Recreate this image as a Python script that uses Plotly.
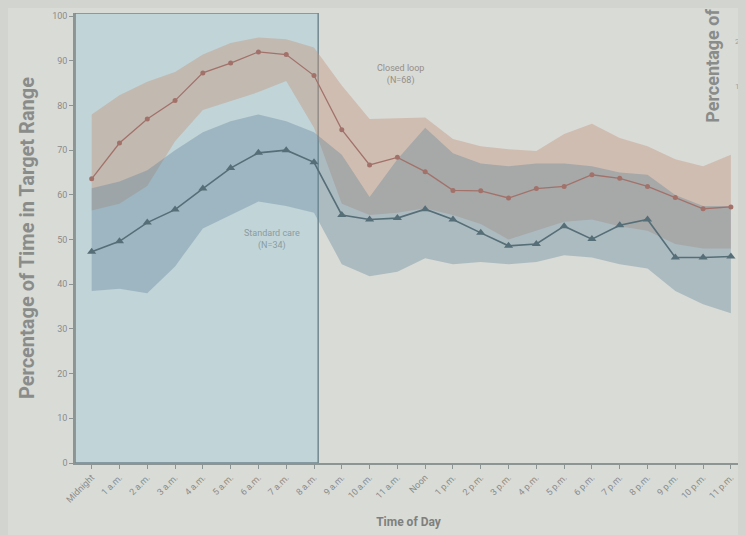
import plotly.graph_objects as go

hours = list(range(24))
tick_labels = ["Midnight", "1 a.m.", "2 a.m.", "3 a.m.", "4 a.m.", "5 a.m.", "6 a.m.", "7 a.m.",
               "8 a.m.", "9 a.m.", "10 a.m.", "11 a.m.", "Noon", "1 p.m.", "2 p.m.", "3 p.m.",
               "4 p.m.", "5 p.m.", "6 p.m.", "7 p.m.", "8 p.m.", "9 p.m.", "10 p.m.", "11 p.m."]

closed_median = [63.6, 71.6, 77.0, 81.1, 87.3, 89.5, 92.0, 91.4, 86.7, 74.6, 66.7, 68.4,
                 65.2, 61.0, 60.9, 59.3, 61.4, 61.9, 64.5, 63.7, 61.9, 59.4, 56.9, 57.3]
closed_q75 = [78.0, 82.3, 85.3, 87.5, 91.4, 94.0, 95.2, 94.8, 93.0, 84.5, 77.0, 77.2,
              77.3, 72.5, 70.9, 70.2, 69.8, 73.6, 75.9, 72.7, 70.9, 68.0, 66.4, 69.0]
closed_q25 = [56.5, 58.0, 62.0, 72.0, 79.0, 81.0, 83.0, 85.5, 75.0, 58.0, 55.5, 56.0,
              57.0, 55.5, 53.5, 50.0, 52.0, 54.0, 54.5, 53.0, 52.0, 49.0, 48.0, 48.0]

standard_median = [47.3, 49.6, 53.8, 56.7, 61.4, 66.0, 69.4, 70.0, 67.3, 55.5, 54.5, 54.8,
                   56.8, 54.5, 51.5, 48.6, 49.0, 53.0, 50.1, 53.2, 54.5, 46.0, 46.0, 46.2]
standard_q75 = [61.5, 63.0, 65.5, 70.0, 74.0, 76.5, 78.0, 76.5, 74.0, 69.0, 59.5, 68.0,
                75.0, 69.3, 67.0, 66.4, 67.0, 67.0, 66.4, 65.0, 64.5, 60.0, 57.5, 57.5]
standard_q25 = [38.5, 39.0, 38.0, 44.0, 52.5, 55.5, 58.5, 57.5, 56.0, 44.5, 41.8, 42.8,
                45.8, 44.5, 45.0, 44.5, 45.0, 46.5, 46.0, 44.5, 43.5, 38.5, 35.5, 33.5]

y_ticks = [0, 10, 20, 30, 40, 50, 60, 70, 80, 90, 100]

BG = "#d9dbd7"
GRAY_TXT = "#8a8c8a"
NARROW = "Liberation Sans Narrow, Arial Narrow, Roboto, sans-serif"

# page is offset by the 8px body margin: figure is sized to fill the window exactly
W, H = 738, 527
L, R, T, B = 67, 4, 3, 72
PW, PH = W - L - R, H - T - B
Y_MAX = 100.7


def px_x(page_x):
    return (page_x - 8 - L) / PW


def px_y(page_y):
    return (H - B - (page_y - 8)) / PH


fig = go.Figure()

# closed loop band (drawn first)
fig.add_trace(go.Scatter(x=hours, y=closed_q25, mode="lines", line=dict(width=0),
                         showlegend=False, hoverinfo="skip"))
fig.add_trace(go.Scatter(x=hours, y=closed_q75, mode="lines", line=dict(width=0),
                         fill="tonexty", fillcolor="rgba(195,148,125,0.42)",
                         showlegend=False, hoverinfo="skip"))
# standard care band
fig.add_trace(go.Scatter(x=hours, y=standard_q25, mode="lines", line=dict(width=0),
                         showlegend=False, hoverinfo="skip"))
fig.add_trace(go.Scatter(x=hours, y=standard_q75, mode="lines", line=dict(width=0),
                         fill="tonexty", fillcolor="rgba(100,135,155,0.38)",
                         showlegend=False, hoverinfo="skip"))

fig.add_trace(go.Scatter(x=hours, y=closed_median, mode="lines+markers",
                         line=dict(color="#a2726a", width=1.3),
                         marker=dict(symbol="circle", size=5, color="#a2726a"),
                         showlegend=False))
fig.add_trace(go.Scatter(x=hours, y=standard_median, mode="lines+markers",
                         line=dict(color="#566e77", width=1.6),
                         marker=dict(symbol="triangle-up", size=8, color="#566e77"),
                         showlegend=False))

# night-time (closed-loop) box
fig.add_shape(type="rect", xref="x", yref="y", x0=-0.6, x1=8.15, y0=0, y1=Y_MAX,
              fillcolor="#c1d4d8", line=dict(color="#72888f", width=1.5), layer="below")

fig.add_annotation(x=11.1, y=87, text="Closed loop<br>(N=68)", showarrow=False,
                   font=dict(family=NARROW, size=9, color="#968e88"))
fig.add_annotation(x=6.5, y=50, text="Standard care<br>(N=34)", showarrow=False,
                   font=dict(family=NARROW, size=9, color="#8a9ca0"))

# fragment of the neighbouring panel at the right edge
fig.add_annotation(xref="paper", yref="paper", x=px_x(713), y=px_y(64),
                   xanchor="center", yanchor="middle", text="<b>Percentage of</b>",
                   textangle=-90, showarrow=False,
                   font=dict(family=NARROW, size=18, color="#8a8c8a"))
for lab, pxx, pyy in [("20", 733, 40), ("10", 733, 85), ("0", 738, 125)]:
    fig.add_annotation(xref="paper", yref="paper", x=px_x(pxx), y=px_y(pyy),
                       text=lab, showarrow=False, xanchor="left", yanchor="middle",
                       font=dict(family=NARROW, size=8, color="#a0a2a0"))

fig.update_layout(
    width=W, height=H,
    margin=dict(l=L, r=R, t=T, b=B),
    paper_bgcolor=BG, plot_bgcolor=BG,
    xaxis=dict(range=[-0.6, 23.4], tickmode="array", tickvals=hours, ticktext=tick_labels,
               tickangle=-45, showgrid=False, zeroline=False, showline=True,
               linecolor="#8c9494", linewidth=1.5, ticks="outside", ticklen=4,
               tickcolor="#8c9494", tickfont=dict(family=NARROW, size=9, color=GRAY_TXT),
               title=dict(text="<b>Time of Day</b>", standoff=14,
                          font=dict(family=NARROW, size=12, color="#7e807e"))),
    yaxis=dict(range=[0, Y_MAX], tickmode="array", tickvals=y_ticks,
               ticktext=[str(v) for v in y_ticks],
               showgrid=False, zeroline=False, showline=True,
               linecolor="#8c9494", linewidth=1.5, ticks="outside", ticklen=4,
               tickcolor="#8c9494", tickfont=dict(family=NARROW, size=9, color=GRAY_TXT),
               title=dict(text="<b>Percentage of Time in Target Range</b>", standoff=12,
                          font=dict(family=NARROW, size=20, color="#8a8c8a"))),
)

fig.write_html("out.html",
               post_script="document.body.style.background='#d2d4d0';")
